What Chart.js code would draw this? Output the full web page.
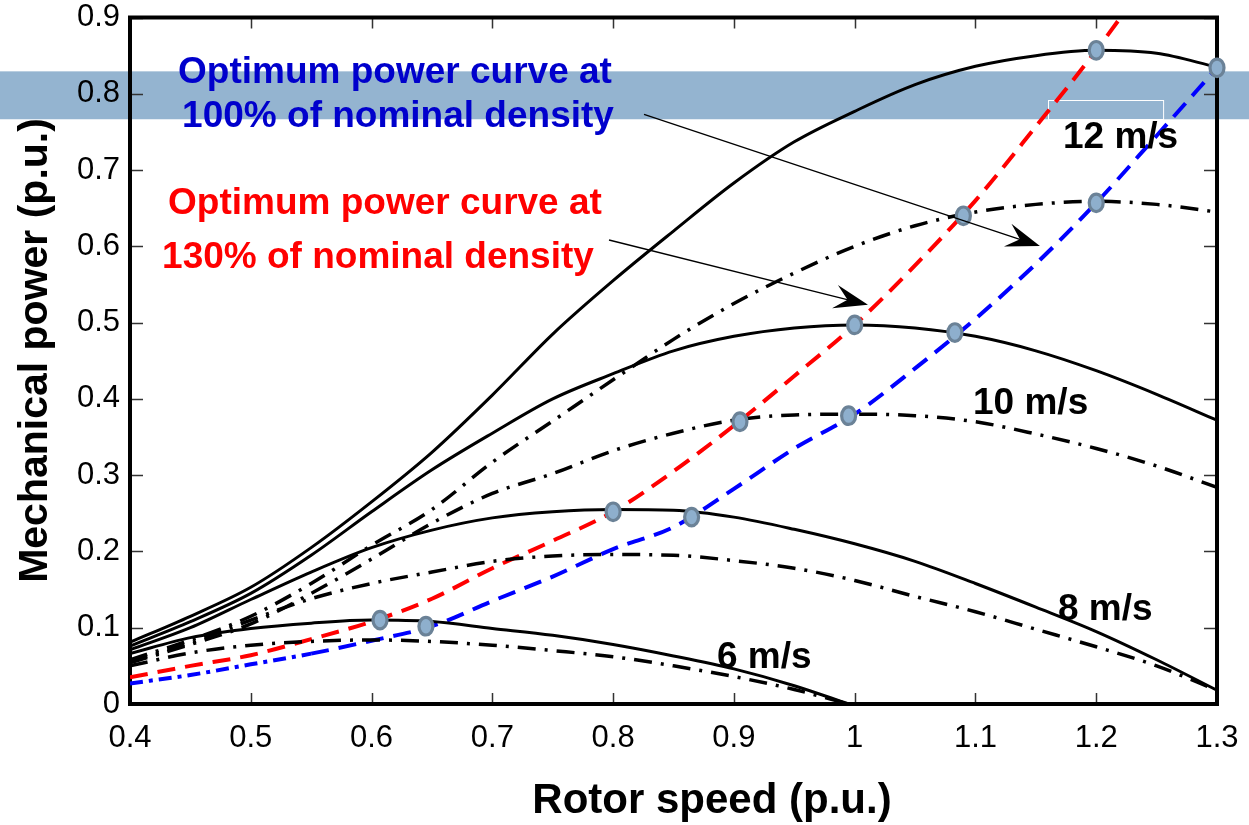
<!DOCTYPE html>
<html>
<head>
<meta charset="utf-8">
<script src="https://cdn.jsdelivr.net/npm/chart.js@4.4.1/dist/chart.umd.min.js"></script>
<style>
html,body{margin:0;padding:0;background:#ffffff;}
#wrap{position:relative;width:1249px;height:825px;}
</style>
</head>
<body>
<div id="wrap"><canvas id="c" width="1249" height="825"></canvas></div>
<script>
// ---------------- data ----------------
const speed   = [0.40,0.45,0.50,0.55,0.60,0.65,0.70,0.75,0.80,0.85,0.90,0.95,1.00,1.05,1.10,1.15,1.20,1.25,1.30];
const speed6  = [0.40,0.45,0.50,0.55,0.60,0.65,0.70,0.75,0.80,0.85,0.90,0.95,0.995];
const speedRed= [0.40,0.45,0.50,0.55,0.60,0.65,0.70,0.75,0.80,0.85,0.90,0.95,1.00,1.05,1.10,1.15,1.20,1.25];

// solid curves (130% of nominal density)
const p12Solid = [0.081,0.115,0.153,0.205,0.265,0.330,0.405,0.485,0.555,0.620,0.683,0.737,0.777,0.812,0.836,0.850,0.857,0.853,0.835];
const p10Solid = [0.076,0.108,0.145,0.195,0.252,0.307,0.355,0.400,0.433,0.463,0.482,0.493,0.497,0.493,0.482,0.463,0.437,0.406,0.372];
const p8Solid  = [0.071,0.100,0.137,0.173,0.205,0.228,0.244,0.252,0.255,0.254,0.245,0.229,0.210,0.187,0.158,0.127,0.095,0.058,0.018];
const p6Solid  = [0.066,0.087,0.099,0.106,0.110,0.108,0.099,0.090,0.078,0.063,0.046,0.024,0.000];

// dash-dot curves (100% of nominal density)
const p12Dash = [0.058,0.084,0.115,0.158,0.208,0.255,0.317,0.371,0.425,0.478,0.525,0.565,0.600,0.627,0.645,0.655,0.659,0.655,0.645];
const p10Dash = [0.054,0.078,0.105,0.145,0.190,0.237,0.276,0.302,0.332,0.355,0.372,0.379,0.380,0.378,0.370,0.354,0.335,0.312,0.284];
const p8Dash  = [0.056,0.080,0.110,0.138,0.158,0.173,0.187,0.194,0.196,0.195,0.188,0.178,0.162,0.141,0.121,0.098,0.075,0.050,0.018];
const p6Dash  = [0.050,0.067,0.077,0.082,0.084,0.082,0.077,0.070,0.062,0.050,0.036,0.019,0.000];

// optimum power curves
const optRed  = [0.035,0.050,0.064,0.085,0.108,0.138,0.178,0.214,0.252,0.305,0.365,0.430,0.497,0.575,0.660,0.757,0.857,0.965];
const optBlue = [0.027,0.038,0.052,0.066,0.083,0.102,0.135,0.167,0.203,0.232,0.282,0.335,0.380,0.440,0.505,0.577,0.657,0.745,0.834];

// operating points (markers)
const redMarkX  = [0.607,0.800,0.905,1.000,1.090,1.200];
const redMarkY  = [0.110,0.252,0.370,0.497,0.640,0.857];
const blueMarkX = [0.645,0.865,0.995,1.083,1.200,1.300];
const blueMarkY = [0.102,0.245,0.378,0.487,0.657,0.834];

// axis ticks
const xTickValues = [0.4,0.5,0.6,0.7,0.8,0.9,1.0,1.1,1.2,1.3];
const xTickLabels = ['0.4','0.5','0.6','0.7','0.8','0.9','1','1.1','1.2','1.3'];
const yTickValues = [0,0.1,0.2,0.3,0.4,0.5,0.6,0.7,0.8,0.9];
const yTickLabels = ['0','0.1','0.2','0.3','0.4','0.5','0.6','0.7','0.8','0.9'];

// text
const xTitle = 'Rotor speed (p.u.)';
const yTitle = 'Mechanical power (p.u.)';
const blueNote = ['Optimum power curve at','100% of nominal density'];
const redNote  = ['Optimum power curve at','130% of nominal density'];
const windLabels = ['12 m/s','10 m/s','8 m/s','6 m/s'];

// ---------------- presentation ----------------
const FONT = "'Liberation Sans', Arial, Helvetica, sans-serif";
const bandRange = [0.7666, 0.8294];
const whiteBox  = [1.160, 0.7666, 1.2553, 0.7915];
const noteAnchors = [
  {lines: blueNote, color:'#0000CC', pos:[[0.6194,0.8137],[0.6219,0.7562]], align:'center'},
  {lines: redNote,  color:'#FF0000', pos:[[0.6111,0.6423],[0.6053,0.5717]], align:'center'}
];
const windPos = [[1.1725,0.7287],[1.098,0.3807],[1.1683,0.1099],[0.886,0.0471]];
const arrows = [
  [0.8256,0.773,1.1534,0.6005],
  [0.7966,0.6083,1.011,0.5233]
];

const DASHDOT = [18,9,3,9];
const DASHED = [18,10];
const BLUE_START = [13,6,4,6];

function pts(xs, ys){ return xs.map((x,i)=>({x:x, y:ys[i]})); }
function curve(xs, ys, color, dash, width){
  return {data: pts(xs,ys), borderColor: color, borderDash: dash, borderWidth: width,
          pointRadius: 0, fill: false, cubicInterpolationMode: 'monotone', borderCapStyle:'butt'};
}
function markers(xs, ys){
  return {data: pts(xs,ys), showLine:false, pointRadius: 0, isMarker: true, clip: false};
}

const bandPlugin = {
  id: 'band',
  beforeDraw(chart){
    const {ctx, scales:{x, y}} = chart;
    const yTop = y.getPixelForValue(bandRange[1]), yBot = y.getPixelForValue(bandRange[0]);
    ctx.save();
    ctx.fillStyle = '#94B4D0';
    ctx.fillRect(0, yTop, chart.width, yBot - yTop);
    ctx.strokeStyle = '#FFFFFF'; ctx.lineWidth = 1;
    const bx0 = x.getPixelForValue(whiteBox[0]), bx1 = x.getPixelForValue(whiteBox[2]);
    const by0 = y.getPixelForValue(whiteBox[3]), by1 = y.getPixelForValue(whiteBox[1]);
    ctx.strokeRect(Math.round(bx0)+0.5, Math.round(by0)+0.5, bx1-bx0, by1-by0);
    ctx.restore();
  }
};

const framePlugin = {
  id: 'frame',
  beforeDatasetsDraw(chart){
    const {ctx, chartArea:a, scales:{x, y}} = chart;
    ctx.save();
    ctx.strokeStyle = '#333'; ctx.lineWidth = 1.5;
    ctx.beginPath();
    xTickValues.forEach(v => {
      const px = Math.round(x.getPixelForValue(v)) + 0.5;
      ctx.moveTo(px, a.bottom); ctx.lineTo(px, a.bottom - 11);
      ctx.moveTo(px, a.top); ctx.lineTo(px, a.top + 11);
    });
    yTickValues.forEach(v => {
      const py = Math.round(y.getPixelForValue(v)) + 0.5;
      ctx.moveTo(a.left, py); ctx.lineTo(a.left + 13, py);
      ctx.moveTo(a.right, py); ctx.lineTo(a.right - 13, py);
    });
    ctx.stroke();
    ctx.strokeStyle = '#000'; ctx.lineWidth = 4;
    ctx.strokeRect(a.left, a.top, a.right - a.left, a.bottom - a.top);
    ctx.restore();
  }
};

function drawArrow(ctx, x0, y0, x1, y1){
  const ang = Math.atan2(y1 - y0, x1 - x0);
  const dx = Math.cos(ang), dy = Math.sin(ang);
  const nx = -dy, ny = dx;
  const L = 34, W = 12;
  ctx.beginPath();
  ctx.moveTo(x0, y0);
  ctx.lineTo(x1 - dx*L*0.6, y1 - dy*L*0.6);
  ctx.lineWidth = 1.3; ctx.strokeStyle = '#000'; ctx.stroke();
  ctx.beginPath();
  ctx.moveTo(x1, y1);
  ctx.lineTo(x1 - dx*L + nx*W, y1 - dy*L + ny*W);
  ctx.lineTo(x1 - dx*L*0.62, y1 - dy*L*0.62);
  ctx.lineTo(x1 - dx*L - nx*W, y1 - dy*L - ny*W);
  ctx.closePath();
  ctx.fillStyle = '#000'; ctx.fill();
}

const notePlugin = {
  id: 'notes',
  afterDatasetsDraw(chart){
    const {ctx, scales:{x, y}} = chart;
    ctx.save();
    chart.data.datasets.forEach((ds, i) => {
      if (!ds.isMarker) return;
      chart.getDatasetMeta(i).data.forEach(el => {
        ctx.beginPath();
        ctx.ellipse(el.x, el.y, 7, 8.8, 0, 0, Math.PI*2);
        ctx.fillStyle = '#8EAFCD'; ctx.fill();
        ctx.lineWidth = 3.2; ctx.strokeStyle = '#6B8297'; ctx.stroke();
      });
    });
    arrows.forEach(a => drawArrow(ctx, x.getPixelForValue(a[0]), y.getPixelForValue(a[1]),
                                       x.getPixelForValue(a[2]), y.getPixelForValue(a[3])));
    ctx.font = 'bold 37px ' + FONT;
    ctx.textBaseline = 'alphabetic';
    noteAnchors.forEach(n => {
      ctx.fillStyle = n.color; ctx.textAlign = n.align;
      n.lines.forEach((t,i) => ctx.fillText(t, x.getPixelForValue(n.pos[i][0]), y.getPixelForValue(n.pos[i][1])));
    });
    ctx.fillStyle = '#000'; ctx.textAlign = 'left';
    windLabels.forEach((t,i) => ctx.fillText(t, x.getPixelForValue(windPos[i][0]), y.getPixelForValue(windPos[i][1])));
    ctx.restore();
  },
  afterDraw(chart){
    const {ctx, chartArea:a} = chart;
    ctx.save();
    ctx.fillStyle = '#000';
    ctx.font = 'bold 42px ' + FONT;
    ctx.textAlign = 'center'; ctx.textBaseline = 'alphabetic';
    ctx.fillText(xTitle, a.left + 582, a.bottom + 109);
    ctx.translate(47, a.top + 333);
    ctx.rotate(-Math.PI/2);
    ctx.font = 'bold 41px ' + FONT;
    ctx.fillText(yTitle, 0, 0);
    ctx.restore();
  }
};

const blueCurve = curve(speed, optBlue, '#0000FF', DASHED, 4);
blueCurve.segment = {borderDash: c => (c.p0.parsed.x < 0.549 ? BLUE_START : undefined)};

const chart = new Chart(document.getElementById('c'), {
  type: 'line',
  data: {
    datasets: [
      curve(speed,  p12Solid, '#000', [], 3),
      curve(speed,  p10Solid, '#000', [], 3),
      curve(speed,  p8Solid,  '#000', [], 3),
      curve(speed6, p6Solid,  '#000', [], 3),
      curve(speed,  p12Dash,  '#000', DASHDOT, 3.5),
      curve(speed,  p10Dash,  '#000', DASHDOT, 3.5),
      curve(speed,  p8Dash,   '#000', DASHDOT, 3.5),
      curve(speed6, p6Dash,   '#000', DASHDOT, 3.5),
      curve(speedRed, optRed, '#FF0000', DASHED, 4),
      blueCurve,
      markers(redMarkX, redMarkY),
      markers(blueMarkX, blueMarkY)
    ]
  },
  options: {
    responsive: false,
    animation: false,
    devicePixelRatio: 1,
    layout: {padding: {top: 16, right: 32, left: 0, bottom: 0}},
    plugins: {legend: {display: false}, tooltip: {enabled: false}},
    scales: {
      x: {
        type: 'linear', min: 0.4, max: 1.3,
        afterBuildTicks: s => { s.ticks = xTickValues.map(v => ({value: v})); },
        afterFit: s => { s.height = 121; },
        grid: {display: false}, border: {display: false},
        ticks: {callback: (v, i) => xTickLabels[i], color: '#000', padding: 8,
                maxRotation: 0, autoSkip: false, font: {family: FONT, size: 31, lineHeight: 1.2}}
      },
      y: {
        type: 'linear', min: 0, max: 0.9,
        afterBuildTicks: s => { s.ticks = yTickValues.map(v => ({value: v})); },
        afterFit: s => { s.width = 130; },
        grid: {display: false}, border: {display: false},
        ticks: {callback: (v, i) => yTickLabels[i], color: '#000', padding: 2,
                autoSkip: false, font: {family: FONT, size: 31, lineHeight: 1.0}}
      }
    }
  },
  plugins: [bandPlugin, framePlugin, notePlugin]
});
</script>
</body>
</html>
